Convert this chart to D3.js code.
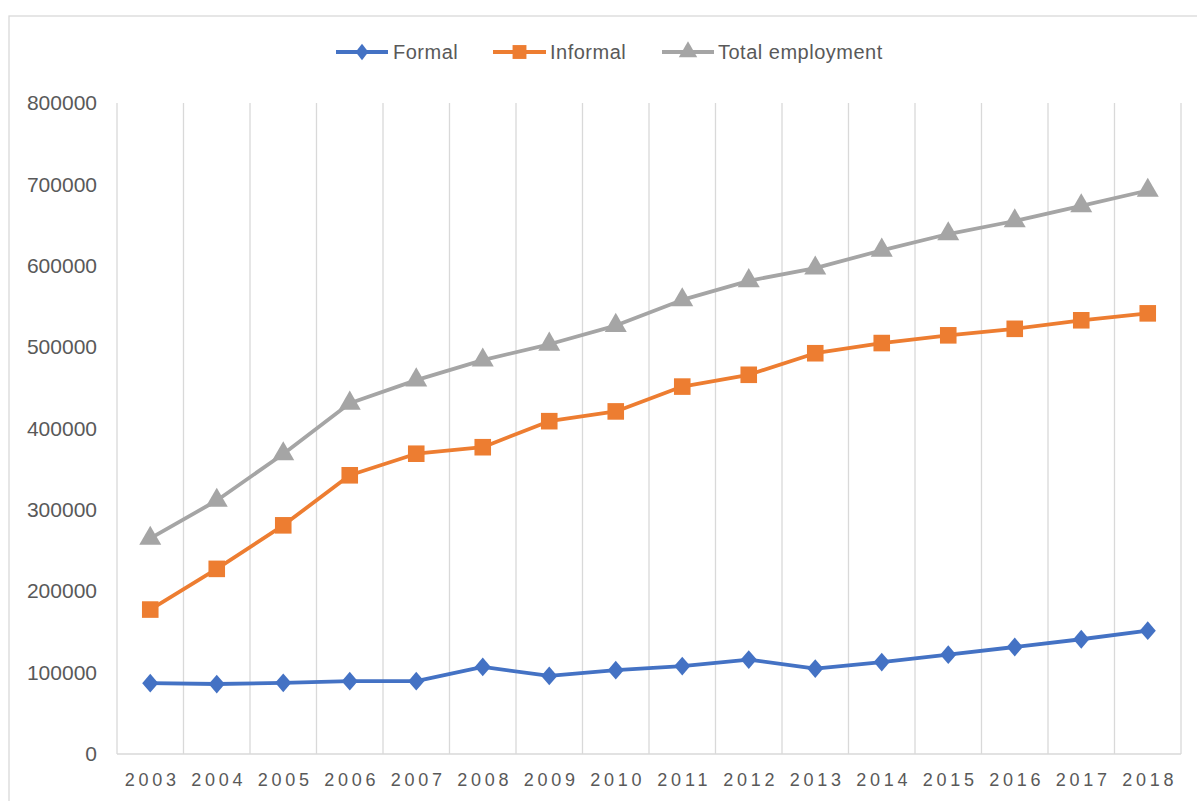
<!DOCTYPE html>
<html>
<head>
<meta charset="utf-8">
<script src="https://cdn.jsdelivr.net/npm/d3@7/dist/d3.min.js"></script>
<style>
  html, body { margin: 0; padding: 0; background: #fff; }
  svg { display: block; }
  text { font-family: "Liberation Sans", Arial, sans-serif; fill: #595959; }
</style>
</head>
<body>
<svg id="chart" width="1197" height="801"></svg>
<script>
const years = ["2003","2004","2005","2006","2007","2008","2009","2010","2011","2012","2013","2014","2015","2016","2017","2018"];
const formal = [87000, 86000, 87500, 89500, 89500, 107000, 96000, 103000, 108000, 116000, 105000, 113000, 122000, 131500, 141000, 151500];
const informal = [177500, 227500, 281000, 342500, 369000, 377000, 409000, 421000, 451500, 466000, 492500, 505000, 514500, 522500, 533000, 541500];
const totalEmployment = [265000, 311500, 368700, 431000, 459500, 484000, 503500, 526500, 558000, 581500, 597000, 619000, 639000, 655000, 673500, 692500];
const yTicks = [0, 100000, 200000, 300000, 400000, 500000, 600000, 700000, 800000];
const seriesNames = ["Formal", "Informal", "Total employment"];

(function () {
const svg = d3.select("#chart");
const pLeft = 117, pRight = 1181, pTop = 103, pBottom = 754;

// chart border
svg.append("rect").attr("x", 9).attr("y", 16).attr("width", 1200).attr("height", 800)
  .attr("fill", "none").attr("stroke", "#D9D9D9").attr("stroke-width", 1.3);

const x = d3.scaleBand().domain(years).range([pLeft, pRight]).padding(0);
const y = d3.scaleLinear().domain([0, 800000]).range([pBottom, pTop]);

// vertical gridlines at category boundaries
const bounds = years.map(d => x(d)).concat([x(years[years.length-1]) + x.bandwidth()]);
svg.append("g").selectAll("line").data(bounds).join("line")
  .attr("x1", d => d).attr("x2", d => d)
  .attr("y1", pTop).attr("y2", pBottom)
  .attr("stroke", "#D9D9D9").attr("stroke-width", 1.3);

// bottom axis line
svg.append("line").attr("x1", pLeft).attr("x2", pRight).attr("y1", pBottom).attr("y2", pBottom)
  .attr("stroke", "#D9D9D9").attr("stroke-width", 1.3);

// y axis labels
const yAxis = d3.axisLeft(y).tickValues(yTicks).tickFormat(d3.format("d")).tickSize(0).tickPadding(0);
const gy = svg.append("g").attr("transform", `translate(${pLeft - 20},0)`).call(yAxis);
gy.select(".domain").remove();
gy.selectAll("text").style("font-family", "'Liberation Sans', Arial, sans-serif")
  .style("font-size", "21px").style("fill", "#595959");

// x axis labels
const xAxis = d3.axisBottom(x).tickSize(0).tickPadding(0);
const gx = svg.append("g").attr("transform", `translate(2,${pBottom + 19})`).call(xAxis);
gx.select(".domain").remove();
gx.selectAll("text").style("font-family", "'Liberation Sans', Arial, sans-serif")
  .style("font-size", "18px").style("letter-spacing", "3.8px").style("fill", "#595959");

const colors = ["#4472C4", "#ED7D31", "#A5A5A5"];
const data = [formal, informal, totalEmployment];
const symbols = [d3.symbolSquare, d3.symbolSquare, d3.symbolTriangle];
const symSizes = [160, 275, 210];
const cx = d => x(d) + x.bandwidth() / 2;

const line = d3.line().x((d, i) => cx(years[i])).y(d => y(d));

data.forEach((vals, si) => {
  const g = svg.append("g");
  g.append("path").datum(vals).attr("d", line)
    .attr("fill", "none").attr("stroke", colors[si]).attr("stroke-width", 3.8)
    .attr("stroke-linejoin", "round");
  g.selectAll("path.m").data(vals).join("path").attr("class", "m")
    .attr("d", d3.symbol().type(symbols[si]).size(symSizes[si]))
    .attr("transform", (d, i) => si === 0
      ? `translate(${cx(years[i])},${y(d)}) scale(0.9,1.05) rotate(45)`
      : `translate(${cx(years[i])},${y(d)})`)
    .attr("fill", colors[si]);
});

// legend
const legendItems = [
  {x1: 336, x2: 388, tx: 393},
  {x1: 493, x2: 546, tx: 550},
  {x1: 662, x2: 714, tx: 718}
];
const legY = 52;
const lg = svg.append("g");
legendItems.forEach((it, i) => {
  lg.append("line").attr("x1", it.x1).attr("x2", it.x2).attr("y1", legY).attr("y2", legY)
    .attr("stroke", colors[i]).attr("stroke-width", 3.8);
  lg.append("path")
    .attr("d", d3.symbol().type(symbols[i]).size(symSizes[i] * 0.7)())
    .attr("transform", i === 0
      ? `translate(${(it.x1 + it.x2) / 2},${legY}) scale(0.85,1.1) rotate(45)`
      : `translate(${(it.x1 + it.x2) / 2},${legY})`)
    .attr("fill", colors[i]);
  lg.append("text").attr("x", it.tx).attr("y", legY).attr("dy", "0.35em")
    .style("font-size", "20px").style("letter-spacing", "0.5px")
    .text(seriesNames[i]);
});
})();
</script>
</body>
</html>
